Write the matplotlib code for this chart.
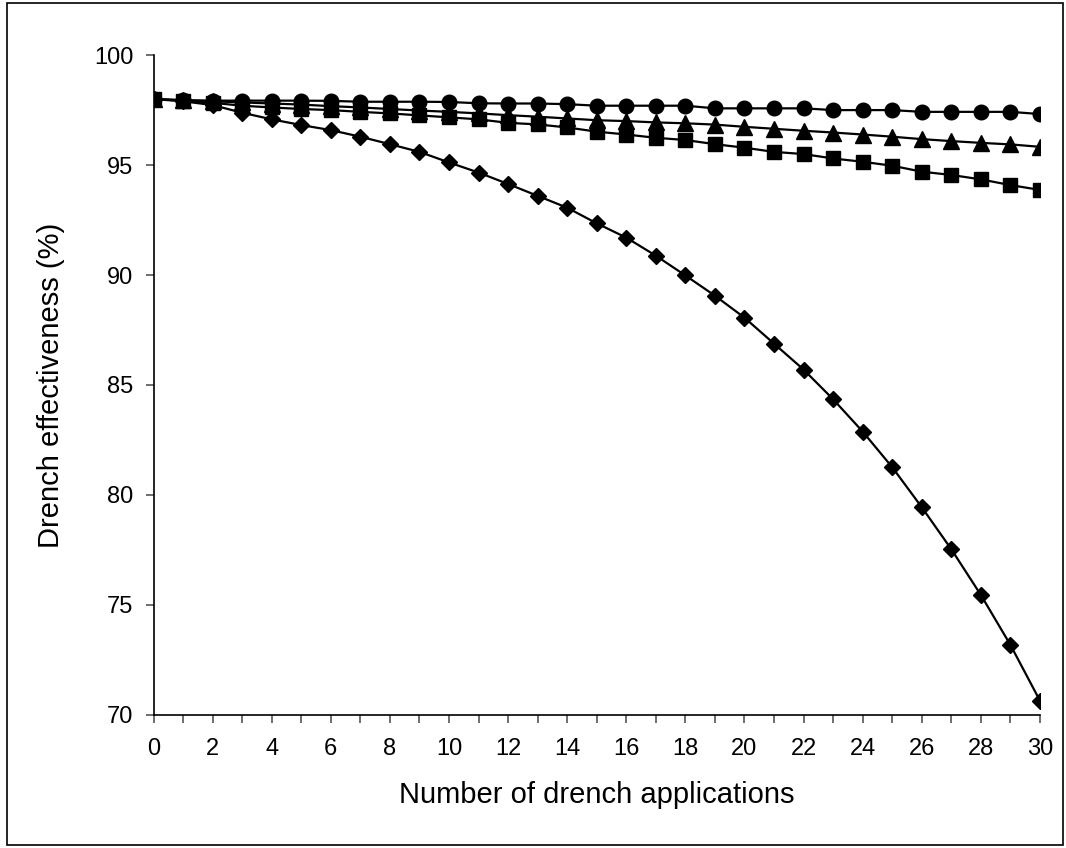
import matplotlib
matplotlib.use("Agg")
import matplotlib.pyplot as plt
from matplotlib.patches import Rectangle

plt.rcParams['font.family'] = ['Liberation Sans', 'DejaVu Sans']

applications = list(range(0, 31))

series_diamond = [98.0, 97.9, 97.73, 97.38, 97.08, 96.82, 96.59, 96.29, 95.95, 95.6,
                  95.12, 94.66, 94.14, 93.6, 93.06, 92.35, 91.7, 90.88, 89.98, 89.06,
                  88.06, 86.88, 85.7, 84.35, 82.88, 81.26, 79.44, 77.53, 75.45, 73.18, 70.64]

series_circle = [98.0, 97.95, 97.93, 97.93, 97.93, 97.93, 97.92, 97.88, 97.88, 97.88,
                 97.87, 97.81, 97.8, 97.8, 97.77, 97.7, 97.7, 97.7, 97.7, 97.58,
                 97.58, 97.58, 97.58, 97.5, 97.5, 97.5, 97.42, 97.42, 97.42, 97.42, 97.32]

series_triangle = [98.0, 97.95, 97.9, 97.85, 97.8, 97.75, 97.68, 97.62, 97.55, 97.48,
                   97.42, 97.35, 97.27, 97.2, 97.12, 97.04, 97.0, 96.94, 96.9, 96.84,
                   96.74, 96.65, 96.56, 96.48, 96.39, 96.29, 96.18, 96.09, 96.01, 95.94, 95.83]

series_square = [98.0, 97.93, 97.83, 97.7, 97.62, 97.55, 97.5, 97.42, 97.35, 97.26,
                 97.17, 97.08, 96.92, 96.85, 96.71, 96.52, 96.39, 96.24, 96.14, 95.95,
                 95.79, 95.6, 95.5, 95.3, 95.15, 94.97, 94.7, 94.55, 94.35, 94.09, 93.87]

y_ticks = [70, 75, 80, 85, 90, 95, 100]
x_tick_labels = list(range(0, 31, 2))

fig = plt.figure(figsize=(10.66, 8.48), dpi=100)
ax = fig.add_axes([0.144, 0.157, 0.8316, 0.778])

lw = 1.6
ax.plot(applications, series_diamond, color='black', lw=lw, marker='D', markersize=8,
        markeredgecolor='black', markerfacecolor='black', zorder=3)
ax.plot(applications, series_triangle, color='black', lw=lw, marker='^', markersize=11,
        markeredgecolor='black', markerfacecolor='black', zorder=3)
ax.plot(applications, series_square, color='black', lw=lw, marker='s', markersize=9.5,
        markeredgecolor='black', markerfacecolor='black', zorder=3)
ax.plot(applications, series_circle, color='black', lw=lw, marker='o', markersize=10.5,
        markeredgecolor='black', markerfacecolor='black', zorder=3)

ax.set_xlim(0, 30)
ax.set_ylim(70, 100)
ax.set_xticks(applications, minor=True)
ax.set_xticks(x_tick_labels)
ax.set_xticklabels([str(v) for v in x_tick_labels])
ax.set_yticks(y_ticks)
ax.set_yticklabels([str(v) for v in y_ticks])

for side in ['top', 'right']:
    ax.spines[side].set_visible(False)
for side in ['left', 'bottom']:
    ax.spines[side].set_linewidth(1.2)
    ax.spines[side].set_color('black')

ax.tick_params(axis='both', which='both', direction='out', length=5.5, width=1.2,
               color='#555555', labelsize=17)
ax.tick_params(axis='x', which='major', pad=11.5)
ax.tick_params(axis='y', pad=9)

ax.set_xlabel('Number of drench applications', fontsize=21, labelpad=15)
ax.set_ylabel('Drench effectiveness (%)', fontsize=21, labelpad=21)

fig.patches.append(Rectangle((0.0066, 0.003), 0.991, 0.994, transform=fig.transFigure,
                             fill=False, edgecolor='black', linewidth=1.2))

fig.savefig('out.png', dpi=100)
